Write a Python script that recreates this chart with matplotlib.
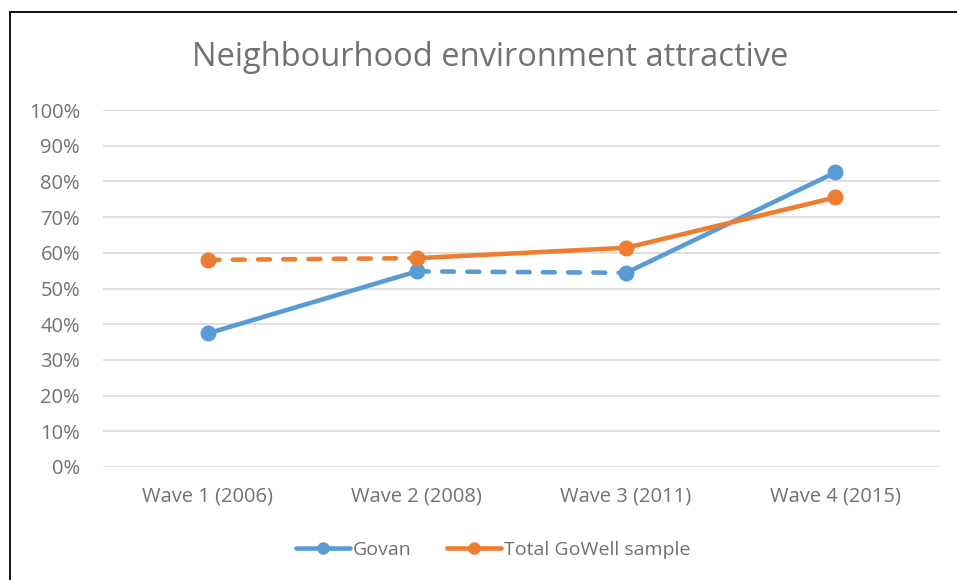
import matplotlib
matplotlib.use("Agg")
import matplotlib.pyplot as plt
from matplotlib.lines import Line2D
from matplotlib.ticker import FuncFormatter

# ---- data ----
categories = ["Wave 1 (2006)", "Wave 2 (2008)", "Wave 3 (2011)", "Wave 4 (2015)"]
govan = [37.4, 54.8, 54.4, 82.5]
total = [58.0, 58.5, 61.4, 75.5]
# whether the segment between wave i and wave i+1 is dashed
govan_dashed = [False, True, False]
total_dashed = [True, False, False]
series_names = ["Govan", "Total GoWell sample"]
title = "Neighbourhood environment attractive"
y_ticks = [0, 10, 20, 30, 40, 50, 60, 70, 80, 90, 100]

BLUE = "#5B9BD5"
ORANGE = "#ED7D31"
GRAY = "#717171"
FONT = "Open Sans"

plt.rcParams["font.family"] = [FONT, "DejaVu Sans"]

W, H = 957, 580
fig = plt.figure(figsize=(W / 100, H / 100), dpi=100)
ax = fig.add_axes([103 / W, 1 - 467 / H, (940 - 103) / W, (467 - 110) / H])

x = list(range(len(categories)))
LW = 3.3


def draw(values, dashed, color, z):
    for i in range(len(values) - 1):
        kw = dict(color=color, lw=LW, solid_capstyle="round", zorder=z)
        if dashed[i]:
            ln, = ax.plot(x[i:i + 2], values[i:i + 2], **kw)
            ln.set_dashes((2.6, 2.9))
            ln.set_dash_capstyle("round")
        else:
            ax.plot(x[i:i + 2], values[i:i + 2], **kw)
    ax.plot(x, values, linestyle="none", marker="o", markersize=10.5,
            color=color, zorder=z + 0.5)


draw(govan, govan_dashed, BLUE, 3)
draw(total, total_dashed, ORANGE, 4)

ax.set_xlim(-0.5, len(categories) - 0.5)
ax.set_ylim(0, 100)
ax.set_yticks(y_ticks)
ax.yaxis.set_major_formatter(FuncFormatter(lambda v, p: f"{v:.0f}%"))
ax.set_xticks(x)
ax.set_xticklabels(categories)
ax.tick_params(axis="both", length=0, labelsize=14.5, labelcolor=GRAY)
ax.tick_params(axis="y", pad=16.5)
ax.tick_params(axis="x", pad=14)
ax.grid(axis="y", color="#D9D9D9", lw=1.2, zorder=0)
ax.set_axisbelow(True)
for s in ax.spines.values():
    s.set_visible(False)

fig.text(490 / W, 1 - 57 / H, title, ha="center", va="center",
         fontsize=23.5, color=GRAY)

handles = [
    Line2D([], [], color=BLUE, lw=LW, marker="o", markersize=8, solid_capstyle="round"),
    Line2D([], [], color=ORANGE, lw=LW, marker="o", markersize=8, solid_capstyle="round"),
]
leg = fig.legend(handles, series_names, loc="center", bbox_to_anchor=(493 / W, 1 - 550 / H),
                 ncol=2, frameon=False, fontsize=14, handlelength=2.8,
                 handletextpad=0.15, columnspacing=1.8, labelcolor=GRAY)

# outer chart border (left & top visible)
fig.add_artist(Line2D([9.5 / W, 9.5 / W], [0, 1 - 11.5 / H], color="black", lw=1.3,
                      transform=fig.transFigure))
fig.add_artist(Line2D([9.5 / W, 1], [1 - 11.5 / H, 1 - 11.5 / H], color="black", lw=1.3,
                      transform=fig.transFigure))

fig.savefig("out.png", dpi=100, facecolor="white")
